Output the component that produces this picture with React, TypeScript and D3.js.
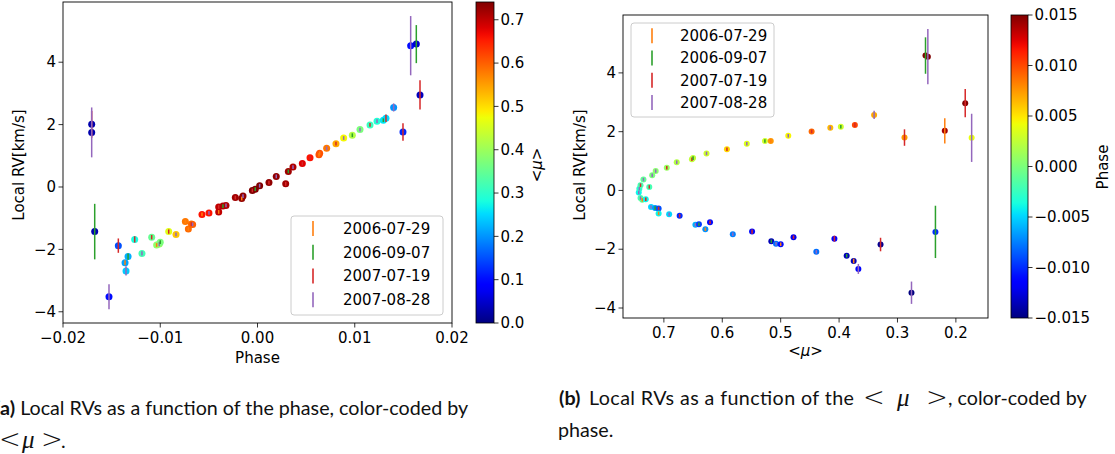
import React from 'react';
import * as d3 from 'd3';

// ---------- shared ----------
const DATES = ['2006-07-29', '2006-09-07', '2007-07-19', '2007-08-28'];
const DATE_COLORS = ['#ff7f0e', '#2ca02c', '#d62728', '#9467bd'];
const Y_TICKS = [-4, -2, 0, 2, 4];

// ---------- panel (a): RV vs phase, coloured by <mu> ----------
const phaseA = [-0.01527, -0.01431, -0.01331, -0.01362, -0.01352, -0.01263, -0.01188, -0.01088, -0.01037, -0.0101, -0.0100, -0.00913, -0.00838, -0.00742, -0.00711, -0.0068, -0.00667, -0.00571, -0.00499, -0.00399, -0.00399, -0.00355, -0.00324, -0.00228, -0.00162, -0.00149, -0.00053, -0.00023, 0.00022, 0.00118, 0.00193, 0.0029, 0.00317, 0.00365, 0.00461, 0.0054, 0.00632, 0.00639, 0.00711, 0.00807, 0.00886, 0.00975, 0.01054, 0.01157, 0.01229, 0.01294, 0.01321, 0.0140, 0.01496, 0.01575, 0.01633, 0.01671, -0.01705, -0.01705, -0.01674];
const rvA = [-3.52, -1.88, -2.23, -2.43, -2.69, -1.68, -2.13, -1.61, -1.86, -1.83, -1.77, -1.43, -1.52, -1.11, -1.35, -1.19, -1.20, -0.88, -0.83, -0.64, -0.80, -0.61, -0.59, -0.34, -0.37, -0.29, -0.11, -0.07, 0.04, 0.14, 0.34, 0.10, 0.50, 0.64, 0.75, 0.94, 1.03, 1.08, 1.24, 1.39, 1.57, 1.66, 1.84, 1.99, 2.11, 2.14, 2.20, 2.55, 1.76, 4.53, 4.58, 2.95, 2.01, 1.75, -1.43];
const errA = [0.40, 0.23, 0.10, 0.08, 0.15, 0.10, 0.07, 0.07, 0.06, 0.07, 0.06, 0.07, 0.06, 0.06, 0.06, 0.06, 0.06, 0.06, 0.06, 0.06, 0.06, 0.06, 0.06, 0.06, 0.06, 0.06, 0.06, 0.06, 0.06, 0.06, 0.06, 0.06, 0.06, 0.06, 0.06, 0.06, 0.06, 0.06, 0.06, 0.06, 0.06, 0.06, 0.06, 0.06, 0.06, 0.06, 0.12, 0.13, 0.28, 0.95, 0.61, 0.47, 0.43, 0.80, 0.89];
const muA = [0.10, 0.15, 0.22, 0.21, 0.24, 0.28, 0.32, 0.35, 0.39, 0.39, 0.37, 0.46, 0.52, 0.58, 0.59, 0.59, 0.60, 0.66, 0.66, 0.70, 0.70, 0.71, 0.71, 0.72, 0.73, 0.73, 0.74, 0.74, 0.74, 0.73, 0.73, 0.72, 0.72, 0.71, 0.68, 0.66, 0.61, 0.61, 0.58, 0.54, 0.48, 0.42, 0.37, 0.31, 0.29, 0.26, 0.25, 0.20, 0.12, 0.10, 0.05, 0.04, 0.03, 0.03, 0.03];
const dateA = [3, 2, 1, 0, 3, 2, 3, 2, 0, 3, 1, 2, 3, 0, 0, 2, 3, 0, 3, 2, 0, 1, 3, 2, 0, 3, 2, 1, 3, 2, 3, 2, 1, 3, 2, 2, 0, 0, 3, 2, 3, 1, 3, 2, 3, 1, 2, 3, 2, 3, 1, 2, 2, 3, 1];
const xTicksA = [-0.02, -0.01, 0, 0.01, 0.02];
const xTickLabelsA = ['\u22120.02', '\u22120.01', '0.00', '0.01', '0.02'];
const cbTicksA = [0, 0.1, 0.2, 0.3, 0.4, 0.5, 0.6, 0.7];

// ---------- panel (b): RV vs <mu>, coloured by phase ----------
const muB = [0.743, 0.742, 0.740, 0.735, 0.725, 0.720, 0.714, 0.695, 0.678, 0.652, 0.650, 0.627, 0.592, 0.558, 0.527, 0.517, 0.487, 0.447, 0.415, 0.397, 0.373, 0.340, 0.740, 0.737, 0.731, 0.722, 0.715, 0.709, 0.709, 0.691, 0.673, 0.646, 0.640, 0.621, 0.629, 0.582, 0.549, 0.516, 0.508, 0.500, 0.478, 0.439, 0.408, 0.387, 0.375, 0.367, 0.329, 0.288, 0.252, 0.248, 0.219, 0.184, 0.173, 0.235, 0.276];
const rvB = [-0.07, 0.06, 0.18, 0.37, 0.12, 0.52, 0.66, 0.77, 0.96, 1.06, 1.10, 1.26, 1.40, 1.59, 1.68, 1.68, 1.86, 2.01, 2.13, 2.17, 2.23, 2.57, -0.26, -0.32, -0.30, -0.56, -0.60, -0.61, -0.78, -0.81, -0.86, -1.17, -1.15, -1.08, -1.32, -1.49, -1.40, -1.73, -1.81, -1.83, -1.59, -2.09, -1.64, -2.22, -2.40, -2.67, -1.84, 1.80, 4.59, 4.55, 2.03, 2.97, 1.79, -1.41, -3.48];
const errB = [0.06, 0.06, 0.06, 0.06, 0.06, 0.06, 0.06, 0.06, 0.06, 0.06, 0.06, 0.06, 0.06, 0.06, 0.06, 0.06, 0.06, 0.06, 0.06, 0.06, 0.07, 0.14, 0.06, 0.06, 0.06, 0.06, 0.06, 0.06, 0.06, 0.06, 0.06, 0.06, 0.06, 0.06, 0.06, 0.06, 0.07, 0.06, 0.06, 0.06, 0.06, 0.06, 0.10, 0.06, 0.08, 0.17, 0.23, 0.28, 0.62, 0.94, 0.43, 0.48, 0.82, 0.89, 0.38];
const phaseB = [-0.004, -0.003, -0.002, -0.001, -0.002, 0.000, 0.0005, 0.001, 0.002, 0.0025, 0.0025, 0.003, 0.0055, 0.0035, 0.003, 0.0075, 0.0045, 0.009, 0.0065, 0.003, 0.010, 0.007, -0.002, -0.001, -0.004, -0.005, -0.007, -0.009, -0.004, -0.005, -0.010, -0.006, -0.0095, -0.011, -0.007, -0.0075, -0.011, -0.0135, -0.008, -0.011, -0.012, -0.008, -0.0115, -0.0135, -0.0135, -0.0115, -0.0145, 0.0075, 0.015, 0.015, 0.014, 0.015, 0.004, -0.010, -0.015];
const dateB = [3, 3, 2, 3, 2, 3, 3, 2, 3, 2, 1, 3, 2, 3, 1, 0, 3, 2, 3, 1, 2, 3, 3, 0, 2, 3, 1, 2, 0, 3, 2, 3, 1, 2, 0, 3, 2, 1, 3, 0, 2, 3, 2, 1, 0, 3, 2, 2, 1, 3, 0, 2, 3, 1, 3];
const xTicksB = [0.7, 0.6, 0.5, 0.4, 0.3, 0.2];
const cbTicksB = [-0.015, -0.01, -0.005, 0, 0.005, 0.01, 0.015];
const cbTickLabelsB = ['\u22120.015', '\u22120.010', '\u22120.005', '0.000', '0.005', '0.010', '0.015'];

// ---------- jet colormap via d3 scales ----------
const jr = d3.scaleLinear().domain([0, 0.35, 0.66, 0.89, 1]).range([0, 0, 1, 1, 0.5]).clamp(true);
const jg = d3.scaleLinear().domain([0, 0.125, 0.375, 0.64, 0.91, 1]).range([0, 0, 1, 1, 0, 0]).clamp(true);
const jb = d3.scaleLinear().domain([0, 0.11, 0.34, 0.65, 1]).range([0.5, 1, 1, 0, 0]).clamp(true);
const jet = (t: number) => d3.rgb(jr(t) * 255, jg(t) * 255, jb(t) * 255).formatHex();
const GRAD_STOPS = d3.range(0, 1.0001, 0.02);

const FONT = 'DejaVu Sans, sans-serif';
const FS = 15;
const CAP_FS = 19.7;
const MATH_LT = { fontFamily: 'DejaVu Sans, sans-serif', fontWeight: 200, fontSize: 26 } as any;
const MATH_MU = { fontFamily: 'Liberation Serif, serif', fontStyle: 'italic', fontSize: 25 } as any;

function Legend({ x, y, w, h, rowY, handleX, textX, fs }: any) {
  return (
    <g>
      <rect x={x} y={y} width={w} height={h} rx={3} fill="white" fillOpacity={0.8} stroke="#cccccc" strokeWidth={1} />
      {DATES.map((d, i) => (
        <g key={d}>
          <line x1={handleX} x2={handleX} y1={rowY[i] - 7.5} y2={rowY[i] + 7.5} stroke={DATE_COLORS[i]} strokeWidth={1.6} />
          <text x={textX} y={rowY[i]} dy="0.35em" fontSize={fs} fill="#000">{d}</text>
        </g>
      ))}
    </g>
  );
}

function Colorbar({ id, x, w, y0, y1, scale, ticks, labels }: any) {
  return (
    <g>
      <defs>
        <linearGradient id={id} x1="0" y1="1" x2="0" y2="0">
          {GRAD_STOPS.map((t) => (
            <stop key={t} offset={t} stopColor={jet(t)} />
          ))}
        </linearGradient>
      </defs>
      <rect x={x} y={y0} width={w} height={y1 - y0} fill={`url(#${id})`} stroke="#000" strokeWidth={0.8} />
      {ticks.map((t: number, i: number) => (
        <g key={t}>
          <line x1={x + w} x2={x + w + 4.5} y1={scale(t)} y2={scale(t)} stroke="#000" strokeWidth={0.8} />
          <text x={x + w + 6.5} y={scale(t)} dy="0.35em" fontSize={FS}>{labels[i]}</text>
        </g>
      ))}
    </g>
  );
}

function Panel(props: any) {
  const { x, y, xTicks, xLabels, color, xs, ys, es, cs, ds, r } = props;
  const [x0, x1] = x.range();
  const [y1, y0] = y.range();
  return (
    <g>
      {Y_TICKS.map((t) => (
        <g key={t}>
          <line x1={x0 - 4.5} x2={x0} y1={y(t)} y2={y(t)} stroke="#000" strokeWidth={0.8} />
          <text x={x0 - 7} y={y(t)} dy="0.35em" textAnchor="end" fontSize={FS}>{t < 0 ? '\u2212' + Math.abs(t) : t}</text>
        </g>
      ))}
      {xTicks.map((t: number, i: number) => (
        <g key={t}>
          <line x1={x(t)} x2={x(t)} y1={y1} y2={y1 + 4.5} stroke="#000" strokeWidth={0.8} />
          <text x={x(t)} y={y1 + 15} dy="0.35em" textAnchor="middle" fontSize={FS}>{xLabels[i]}</text>
        </g>
      ))}
      {xs.map((v: number, i: number) => (
        <circle key={'c' + i} cx={x(v)} cy={y(ys[i])} r={r} fill={jet(color(cs[i]))} />
      ))}
      {xs.map((v: number, i: number) => (
        <line key={'e' + i} x1={x(v)} x2={x(v)} y1={y(ys[i] - es[i])} y2={y(ys[i] + es[i])} stroke={DATE_COLORS[ds[i]]} strokeWidth={1.5} />
      ))}
      <rect x={x0} y={y0} width={x1 - x0} height={y1 - y0} fill="none" stroke="#000" strokeWidth={0.9} />
    </g>
  );
}

export default function App() {
  const xA = d3.scaleLinear().domain([-0.02, 0.02]).range([63, 452]);
  const yA = d3.scaleLinear().domain([-4.36, 5.93]).range([323, 2]);
  const colA = d3.scaleLinear().domain([0, 0.741]).range([0, 1]);
  const cbA = d3.scaleLinear().domain([0, 0.741]).range([323, 2]);

  const xB = d3.scaleLinear().domain([0.77, 0.145]).range([623, 988]);
  const yB = d3.scaleLinear().domain([-4.34, 5.97]).range([318, 15]);
  const colB = d3.scaleLinear().domain([-0.015, 0.015]).range([0, 1]);
  const cbB = d3.scaleLinear().domain([-0.015, 0.015]).range([318, 15]);

  const fmtB = d3.format('.1f');

  return (
    <svg width={1115} height={454} style={{ position: 'absolute', left: 0, top: 0, fontFamily: FONT }}>
      <rect x={0} y={0} width={1115} height={454} fill="white" />
      {/* Panel (a) */}
      <Panel x={xA} y={yA} xTicks={xTicksA} xLabels={xTickLabelsA} color={colA}
        xs={phaseA} ys={rvA} es={errA} cs={muA} ds={dateA} r={3.5} />
      <Legend x={291} y={216} w={152} h={99} rowY={[228.5, 252.3, 276, 299.8]} handleX={313} textX={343} fs={FS} />
      <Colorbar id="cbA" x={476} w={18} y0={2} y1={323} scale={cbA} ticks={cbTicksA} labels={cbTicksA.map((t) => t.toFixed(1))} />
      <text transform="translate(19,165) rotate(-90)" textAnchor="middle" dy="0.35em" fontSize={FS}>Local RV[km/s]</text>
      <text x={257.5} y={358} dy="0.35em" textAnchor="middle" fontSize={FS}>Phase</text>
      <text transform="translate(537,165) rotate(-90)" textAnchor="middle" dy="0.35em" fontSize={FS}>
        &lt;<tspan fontStyle="italic">{'\u03bc'}</tspan>&gt;
      </text>

      {/* Panel (b) */}
      <Panel x={xB} y={yB} xTicks={xTicksB} xLabels={xTicksB.map((t) => fmtB(t))} color={colB}
        xs={muB} ys={rvB} es={errB} cs={phaseB} ds={dateB} r={3} />
      <Legend x={631} y={23} w={143} h={94} rowY={[35.7, 58, 80.3, 102.6]} handleX={652} textX={680} fs={FS} />
      <Colorbar id="cbB" x={1011} w={17} y0={15} y1={318} scale={cbB} ticks={cbTicksB} labels={cbTickLabelsB} />
      <text transform="translate(580,165) rotate(-90)" textAnchor="middle" dy="0.35em" fontSize={FS}>Local RV[km/s]</text>
      <text x={805.5} y={351} dy="0.35em" textAnchor="middle" fontSize={FS}>
        &lt;<tspan fontStyle="italic">{'\u03bc'}</tspan>&gt;
      </text>
      <text transform="translate(1103,167) rotate(-90)" textAnchor="middle" dy="0.35em" fontSize={FS}>Phase</text>

      {/* Captions */}
      <g fontFamily="Lato, sans-serif" fontSize={CAP_FS} fill="#111">
        <text x={-5} y={415}><tspan fontWeight="bold">(a)</tspan> Local RVs as a function of the phase, color-coded by</text>
        <text x={-1} y={448} style={MATH_LT}>&lt;</text>
        <text x={22} y={448} style={MATH_MU}>{'\u03bc'}</text>
        <text x={41} y={448} style={MATH_LT}>&gt;</text>
        <text x={61} y={448}>.</text>

        <text x={559} y={405} fontWeight="bold">(b)</text>
        <text x={589} y={405} textLength={265} lengthAdjust="spacing">Local RVs as a function of the</text>
        <text x={863} y={406} style={MATH_LT}>&lt;</text>
        <text x={897} y={406} style={MATH_MU}>{'\u03bc'}</text>
        <text x={926} y={406} style={MATH_LT}>&gt;</text>
        <text x={948} y={405}>, color-coded by</text>
        <text x={558} y={437}>phase.</text>
      </g>
    </svg>
  );
}
